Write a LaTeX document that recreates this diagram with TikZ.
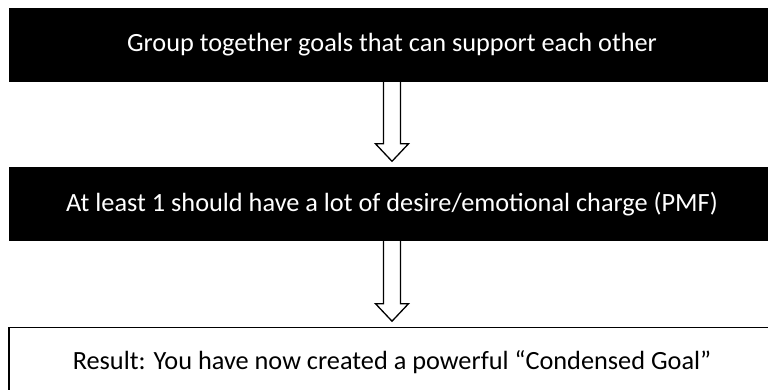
\documentclass[tikz,border=0pt]{standalone}
\usepackage{fontspec}
\setmainfont{Carlito}
\usetikzlibrary{positioning, calc}

\newcommand{\blockarrow}[2]{%
  \draw[arrowline] ($(#1.south)+(-8.5,0)$) -- ($(#2.north)+(-8.5,23)$) -- ($(#2.north)+(-16.5,23)$)
    -- ($(#2.north)+(0,5.5)$) -- ($(#2.north)+(16.5,23)$) -- ($(#2.north)+(8.5,23)$) -- ($(#1.south)+(8.5,0)$);}

\begin{document}
\begin{tikzpicture}[x=1pt, y=1pt,
    box/.style={rectangle, minimum width=766pt, inner sep=0pt, font=\fontsize{26.3}{30}\selectfont},
    darkbox/.style={box, fill=black, text=white, minimum height=74pt},
    resultbox/.style={box, draw=black, line width=1.6pt, fill=white, minimum height=70pt},
    arrowline/.style={draw=black, fill=white, line width=1.3pt, miter limit=10}]
    \useasboundingbox (0,0) rectangle (768,-390);
    \clip (0,0) rectangle (768,-390);

    \node[darkbox] (group) at (392, -45) {Group together goals that can support each other};
    \node[darkbox] (charge) at (392, -204) {At least 1 should have a lot of desire/emotional charge (PMF)};
    \node[resultbox] (result) at (392, -362.5) {Result: You have now created a powerful “Condensed Goal”};

    \blockarrow{group}{charge}
    \blockarrow{charge}{result}
\end{tikzpicture}
\end{document}
